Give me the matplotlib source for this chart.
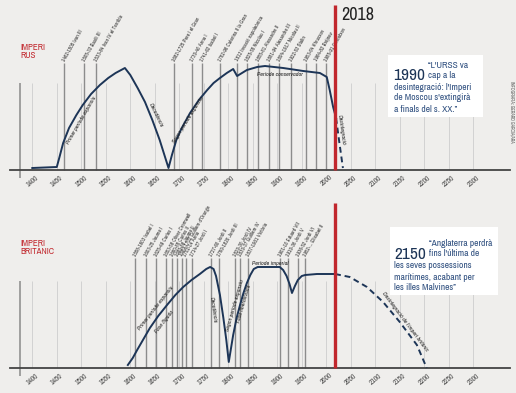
import matplotlib
matplotlib.use('Agg')
import matplotlib.pyplot as plt
from matplotlib.patches import Rectangle
from matplotlib import font_manager as fm

# ---------------- data ----------------
tick_years = list(range(1400, 2301, 50))
now_year = 2018

# Russian empire power curve (year, relative power)
rus_years = [1400, 1450, 1455, 1463, 1475, 1490, 1503, 1520, 1538, 1555, 1570,
             1589, 1600, 1615, 1630, 1645, 1660, 1678,
             1685, 1694, 1705, 1722, 1740, 1757, 1770, 1783, 1797, 1810,
             1818, 1838, 1859, 1875, 1912, 1953, 1987, 2001, 2007, 2014, 2020]
rus_power = [2, 3, 12, 27, 42, 55, 65, 76, 85, 92, 97,
             102, 95, 82, 68, 50, 30, 2,
             15, 30, 42, 57, 70, 80, 87, 92, 97, 101,
             94, 100, 103, 104, 102, 99, 97, 93, 80, 63, 52]
rus_fore_years = [2020, 2026, 2034]
rus_fore_power = [52, 30, 2]

rus_event_years = [1465, 1506, 1530, 1689, 1726, 1746, 1783, 1818, 1838, 1861,
                   1883, 1904, 1928, 1959, 1979, 2000]
rus_event_labels = ["1462-1505 Ivan III", "1505-33 Basili III",
                    "1533-84 Ivan IV el Terrible", "1682-1725 Pere I el Gran",
                    "1730-40 Anna I", "1741-62 Isabel I",
                    "1762-96 Caterina II la Gran", "1812 Invasió napoleònica",
                    "1825-55 Nicolau I", "1855-81 Alexandre II",
                    "1881-94 Alexandre III", "1894-1917 Nicolau II",
                    "1922-53 Stalin", "1953-64 Khrusxov", "1964-82 Bréjnev",
                    "1985-91 Gorbatxov"]

# British empire power curve
bri_years = [1595, 1605, 1614, 1627, 1640, 1657, 1675, 1692, 1708, 1725, 1742,
             1755, 1763, 1770, 1775, 1783, 1790, 1796, 1801,
             1805, 1810, 1817, 1824, 1831, 1838, 1845, 1852, 1860,
             1905, 1912, 1919, 1925, 1930, 1936, 1942, 1950, 1957, 1981, 2018]
bri_power = [3, 10, 18, 29, 40, 52, 63, 73, 81, 88, 94,
             99, 101, 99, 92, 73, 50, 28, 6,
             18, 33, 50, 63, 75, 85, 93, 99, 101,
             101, 98, 92, 84, 75, 82, 88, 92, 93, 94, 94]
bri_fore_years = [2018, 2048, 2083, 2116, 2150, 2185, 2205]
bri_fore_power = [94, 91, 81, 66, 46, 23, 0]

bri_event_years = [1610, 1632, 1652, 1673, 1685, 1696, 1705, 1713, 1726, 1765,
                   1781, 1814, 1824, 1840, 1905, 1922, 1942, 1957]
bri_event_labels = ["1558-1603 Isabel I", "1603-25 Jaume I", "1625-49 Carles I",
                    "1653-58 Oliver Cromwell", "1660-85 Carles II",
                    "1685-88 Jaume II", "1689-1702 Guillem d'Orange",
                    "1702-14 Anna", "1714-27 Jordi I", "1727-60 Jordi II",
                    "1760-1820 Jordi III", "1820-30 Jordi IV",
                    "1830-37 Guillem IV", "1837-1901 Victòria",
                    "1901-10 Eduard VII", "1910-36 Jordi V",
                    "1936-52 Jordi VI", "1952-... Elisabet II"]

# ---------------- fonts ----------------
FAM = 'DejaVu Sans'
STRETCH = 'normal'
SCALE = 0.88
narrow = [f.name for f in fm.fontManager.ttflist if 'Narrow' in f.name]
cond = [f for f in fm.fontManager.ttflist
        if f.name == 'DejaVu Sans' and str(f.stretch) in ('condensed', 'semi-condensed')]
if narrow:
    FAM, STRETCH, SCALE = narrow[0], 'normal', 1.0
elif cond:
    FAM, STRETCH, SCALE = 'DejaVu Sans', 'condensed', 0.95


def fk(size, **kw):
    d = dict(fontsize=size * SCALE, family=FAM, fontstretch=STRETCH)
    d.update(kw)
    return d


BG = '#efeeec'
NAVY = '#1d3557'
RED = '#c1272d'
BLUE_TXT = '#2f4f7f'

W, H = 516, 393
fig = plt.figure(figsize=(W / 100, H / 100), dpi=100)
fig.patch.set_facecolor(BG)


def fx(x):
    return x / W


def fy(y):
    return 1 - y / H


def add_axes(top, bottom, ylim):
    ax = fig.add_axes([10 / W, 1 - bottom / H, 500 / W, (bottom - top) / H])
    ax.set_facecolor('none')
    ax.set_xlim(1354.5, 2375)
    ax.set_ylim(*ylim)
    for s in ['top', 'right', 'left']:
        ax.spines[s].set_visible(False)
    ax.spines['bottom'].set_position(('data', 0))
    ax.spines['bottom'].set_color('#444444')
    ax.spines['bottom'].set_linewidth(1.3)
    ax.set_yticks([])
    ax.set_xticks(tick_years)
    ax.set_xticklabels([str(t) for t in tick_years], rotation=40, ha='center',
                       color='#444444', **fk(5.3))
    ax.tick_params(axis='x', length=0, pad=3)
    return ax


def draw_panel(ax, years, power, fyears, fpower, ev_years, ev_labels, top_ev):
    ax.vlines(tick_years, 0, 87, color='#d2d2d2', lw=0.7, zorder=1)
    ax.vlines([1375], -8, 87, color='#8a8a8a', lw=1.1, zorder=1)
    ax.vlines(ev_years, 0, top_ev, color='#8c8c8c', lw=1.0, zorder=2)
    for yr, lab in zip(ev_years, ev_labels):
        ax.text(yr - 1, top_ev + 2, lab, rotation=60, rotation_mode='anchor',
                ha='left', va='center', color='#333333', **fk(3.9))
    ax.plot(years, power, color=NAVY, lw=1.4, zorder=4)
    ax.plot(fyears, fpower, color=NAVY, lw=1.4, ls=(0, (3, 2)), zorder=4)
    ax.vlines([now_year], 0, 165, color=RED, lw=2.4, zorder=5)


ax1 = add_axes(0, 195, (-25, 170))
draw_panel(ax1, rus_years, rus_power, rus_fore_years, rus_fore_power,
           rus_event_years, rus_event_labels, 107)
ax2 = add_axes(195, 393, (-25, 173))
draw_panel(ax2, bri_years, bri_power, bri_fore_years, bri_fore_power,
           bri_event_years, bri_event_labels, 110)

lab_kw = dict(color='#222222', ha='center', va='center', fontstyle='italic',
              zorder=6, **fk(4.3))
ax1.text(1500, 50, "Primer període expansiu", rotation=60, **lab_kw)
ax1.text(1652, 55, "Decadència", rotation=-64, **lab_kw)
ax1.text(1718, 50, "Segon període expansiu", rotation=58, **lab_kw)
ax1.text(1906, 96, "Període conservador", rotation=0, **lab_kw)
ax1.text(2031, 40, "Desintegració", rotation=-82, **lab_kw)

ax2.text(1652, 60, "Primer període expansiu", rotation=52, **lab_kw)
ax2.text(1670, 46, "Fase lligada", rotation=52, **lab_kw)
ax2.text(1770, 58, "Decadència", rotation=-82, **lab_kw)
ax2.text(1814, 63, "Segon període expansiu", rotation=74, **lab_kw)
ax2.text(1833, 64, "Fase liberalitzada", rotation=74, **lab_kw)
ax2.text(1886, 104, "Període imperial", rotation=0, **lab_kw)
ax2.text(2160, 46, "Desintegració de l'imperi britànic", rotation=-53, **lab_kw)

# ---------------- figure texts ----------------
fig.text(fx(341), fy(15), "2018", color='#222222', ha='left', va='center',
         **fk(13))

for txt, y in [("IMPERI", 47), ("RUS", 56)]:
    fig.text(fx(20), fy(y), txt, color=RED, fontweight='bold',
             ha='left', va='center', **fk(6.4))
for txt, y in [("IMPERI", 243), ("BRITÀNIC", 252)]:
    fig.text(fx(20), fy(y), txt, color=RED, fontweight='bold',
             ha='left', va='center', **fk(6.4))

# boxes
for (x0, y0, x1, y1) in [(388, 55, 483, 117), (390, 227, 498, 295)]:
    fig.patches.append(Rectangle((fx(x0), fy(y1)), (x1 - x0) / W, (y1 - y0) / H,
                                 transform=fig.transFigure, facecolor='white',
                                 edgecolor='none', zorder=2))

fig.text(fx(393), fy(80), "1990", color=NAVY, fontweight='bold',
         ha='left', va='baseline', zorder=3, **fk(12.5))
q_kw = dict(color=BLUE_TXT, ha='left', va='center', zorder=3, **fk(6.8))
fig.text(fx(428), fy(65), "“L'URSS va", **q_kw)
fig.text(fx(428), fy(75), "cap a la", **q_kw)
fig.text(fx(394), fy(87), "desintegració: l'Imperi", **q_kw)
fig.text(fx(394), fy(98), "de Moscou s'extingirà", **q_kw)
fig.text(fx(394), fy(109), "a finals del s. XX.”", **q_kw)

fig.text(fx(394), fy(259), "2150", color=NAVY, fontweight='bold',
         ha='left', va='baseline', zorder=3, **fk(12.5))
fig.text(fx(429), fy(243), "“Anglaterra perdrà", **q_kw)
fig.text(fx(429), fy(254), "fins l'última de", **q_kw)
fig.text(fx(394), fy(266), "les seves possessions", **q_kw)
fig.text(fx(394), fy(277), "marítimes, acabant per", **q_kw)
fig.text(fx(394), fy(288), "les illes Malvines”", **q_kw)

fig.text(fx(512), fy(112), "INFOGRAFIA: GERARD GARCIA/ARA", rotation=-90,
         color='#555555', ha='center', va='center', **fk(3.2))

fig.savefig('out.png', dpi=100, facecolor=BG)
